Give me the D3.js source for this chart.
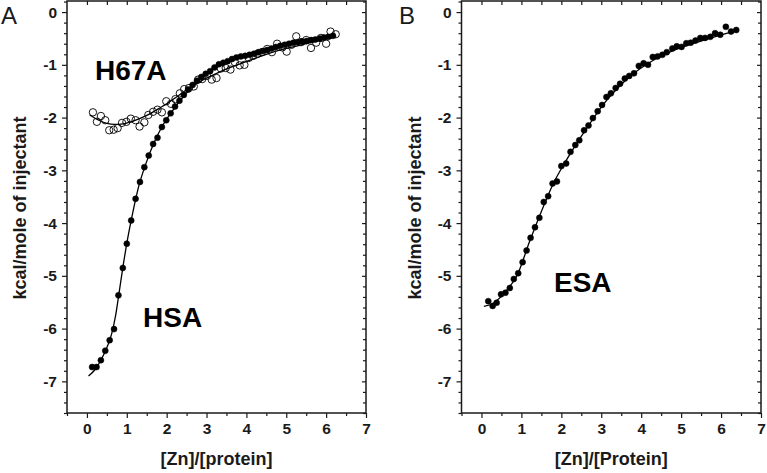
<!DOCTYPE html>
<html>
<head>
<meta charset="utf-8">
<script src="https://cdn.jsdelivr.net/npm/d3@7"></script>
<style>
  body { margin: 0; background: #fff; }
  svg { display: block; font-family: "Liberation Sans", Arial, sans-serif; }
</style>
</head>
<body>
<svg id="chart" width="767" height="473"></svg>
<script>
// axis ticks
const xTicks = [0, 1, 2, 3, 4, 5, 6, 7];
const xMinor = [-0.5, 0.5, 1.5, 2.5, 3.5, 4.5, 5.5, 6.5];
const yTicks = [0, -1, -2, -3, -4, -5, -6, -7];

// panel A, HSA (filled)
const hsaX = [0.13, 0.24, 0.35, 0.46, 0.57, 0.68, 0.79, 0.90, 1.00, 1.11, 1.22, 1.33, 1.44, 1.55, 1.66, 1.77, 1.88, 1.99, 2.10, 2.21, 2.32, 2.43, 2.54, 2.65, 2.76, 2.87, 2.98, 3.09, 3.20, 3.31, 3.42, 3.53, 3.64, 3.75, 3.86, 3.97, 4.08, 4.19, 4.30, 4.41, 4.52, 4.63, 4.74, 4.85, 4.96, 5.07, 5.18, 5.29, 5.40, 5.51, 5.62, 5.73, 5.84, 5.95, 6.06, 6.17];
const hsaY = [-6.73, -6.73, -6.60, -6.42, -6.22, -6.01, -5.37, -4.85, -4.39, -3.95, -3.54, -3.22, -2.94, -2.72, -2.50, -2.38, -2.18, -2.05, -1.92, -1.79, -1.68, -1.57, -1.47, -1.38, -1.30, -1.23, -1.17, -1.12, -1.05, -0.99, -0.96, -0.93, -0.89, -0.86, -0.84, -0.83, -0.81, -0.79, -0.76, -0.74, -0.72, -0.69, -0.66, -0.64, -0.62, -0.60, -0.58, -0.57, -0.56, -0.55, -0.53, -0.52, -0.50, -0.48, -0.47, -0.45];
const hsaFitX = [0.04, 0.2, 0.35, 0.5, 0.62, 0.72, 0.82, 0.92, 1.02, 1.15, 1.3, 1.5, 1.7, 1.9, 2.1, 2.4, 2.7, 3.0, 3.4, 3.8, 4.2, 4.6, 5.0, 5.5, 6.0, 6.25];
const hsaFitY = [-6.9, -6.78, -6.6, -6.36, -6.1, -5.75, -5.25, -4.75, -4.3, -3.8, -3.3, -2.83, -2.45, -2.15, -1.92, -1.62, -1.38, -1.15, -0.99, -0.87, -0.78, -0.70, -0.63, -0.56, -0.49, -0.46];

// panel A, H67A (open)
const h67aX = [0.15, 0.25, 0.35, 0.46, 0.56, 0.67, 0.77, 0.88, 0.99, 1.10, 1.22, 1.32, 1.44, 1.54, 1.66, 1.77, 1.88, 1.99, 2.11, 2.22, 2.33, 2.44, 2.56, 2.68, 2.79, 2.89, 3.01, 3.13, 3.25, 3.36, 3.48, 3.60, 3.71, 3.83, 3.95, 4.06, 4.17, 4.28, 4.39, 4.52, 4.64, 4.77, 4.90, 5.01, 5.13, 5.25, 5.37, 5.50, 5.62, 5.75, 5.87, 6.00, 6.11, 6.24];
const h67aY = [-1.90, -2.08, -1.97, -2.05, -2.24, -2.23, -2.20, -2.10, -2.08, -2.02, -2.05, -2.17, -2.09, -1.95, -1.89, -1.85, -1.90, -1.69, -1.74, -1.65, -1.54, -1.46, -1.44, -1.41, -1.28, -1.27, -1.21, -1.28, -1.25, -1.07, -1.06, -1.09, -0.95, -1.01, -1.00, -0.87, -0.83, -0.79, -0.76, -0.70, -0.76, -0.60, -0.67, -0.75, -0.62, -0.46, -0.57, -0.53, -0.68, -0.58, -0.49, -0.60, -0.37, -0.42];
const h67aFitX = [0.07, 0.3, 0.5, 0.7, 0.9, 1.1, 1.35, 1.6, 1.8, 2.0, 2.3, 2.6, 2.9, 3.2, 3.6, 4.0, 4.5, 5.0, 5.5, 6.0, 6.23];
const h67aFitY = [-1.95, -2.05, -2.11, -2.13, -2.12, -2.08, -2.01, -1.92, -1.83, -1.74, -1.58, -1.42, -1.29, -1.18, -1.05, -0.94, -0.80, -0.69, -0.60, -0.51, -0.47];

// panel B, ESA
const esaX = [0.17, 0.28, 0.38, 0.49, 0.60, 0.71, 0.81, 0.92, 1.03, 1.13, 1.23, 1.34, 1.45, 1.56, 1.67, 1.78, 1.89, 2.00, 2.12, 2.23, 2.35, 2.45, 2.57, 2.68, 2.79, 2.91, 3.02, 3.13, 3.24, 3.36, 3.47, 3.59, 3.70, 3.82, 3.94, 4.06, 4.17, 4.29, 4.41, 4.53, 4.64, 4.78, 4.89, 5.01, 5.13, 5.24, 5.36, 5.48, 5.60, 5.73, 5.85, 5.98, 6.12, 6.25, 6.38];
const esaY = [-5.48, -5.57, -5.51, -5.35, -5.32, -5.23, -5.06, -4.95, -4.74, -4.52, -4.28, -4.08, -3.90, -3.60, -3.49, -3.25, -3.21, -2.92, -2.87, -2.65, -2.52, -2.43, -2.24, -2.15, -2.01, -1.88, -1.76, -1.61, -1.54, -1.44, -1.36, -1.26, -1.21, -1.16, -1.02, -0.97, -1.00, -0.85, -0.84, -0.81, -0.76, -0.69, -0.65, -0.66, -0.59, -0.58, -0.54, -0.49, -0.49, -0.47, -0.40, -0.43, -0.28, -0.37, -0.34];
const esaFitX = [0.06, 0.3, 0.6, 0.9, 1.2, 1.5, 1.8, 2.1, 2.4, 2.7, 3.0, 3.4, 3.8, 4.2, 4.6, 5.0, 5.5, 6.0, 6.38];
const esaFitY = [-5.58, -5.52, -5.3, -4.98, -4.36, -3.78, -3.25, -2.84, -2.47, -2.13, -1.8, -1.45, -1.17, -0.96, -0.80, -0.67, -0.55, -0.43, -0.36];

const svg = d3.select('#chart');
const zip = (xs, ys) => xs.map((x, i) => ({ x: x, y: ys[i] }));
const ink = '#1a1a1a';

function drawPanel(cfg) {
  const x = d3.scaleLinear().domain([-0.5, 7]).range([cfg.left, cfg.right]);
  const y = d3.scaleLinear().domain([-7.6, 0.21]).range([413, 1]);
  const g = svg.append('g');

  const yMinor = d3.range(-38, 2).map(v => v / 5).filter(v => !yTicks.some(t => Math.abs(t - v) < 1e-6));

  const fmt = d => String(d);
  const styleAxis = sel => {
    sel.select('.domain').remove();
    sel.selectAll('line').attr('stroke', ink).attr('stroke-width', 1.2);
    sel.selectAll('text').attr('fill', ink).attr('font-size', 15.5).attr('font-weight', 'bold')
      .attr('font-family', '"Liberation Sans", Arial, sans-serif');
  };

  // left / bottom, ticks outward
  g.append('g').attr('transform', `translate(${cfg.left},0)`)
    .call(d3.axisLeft(y).tickValues(yTicks).tickFormat(fmt).tickSize(5).tickPadding(5)).call(styleAxis);
  g.append('g').attr('transform', `translate(${cfg.left},0)`)
    .call(d3.axisLeft(y).tickValues(yMinor).tickFormat('').tickSize(3)).call(styleAxis);
  g.append('g').attr('transform', 'translate(0,413)')
    .call(d3.axisBottom(x).tickValues(xTicks).tickFormat(fmt).tickSize(5).tickPadding(5)).call(styleAxis);
  g.append('g').attr('transform', 'translate(0,413)')
    .call(d3.axisBottom(x).tickValues(xMinor).tickFormat('').tickSize(3)).call(styleAxis);

  // top / right, ticks inward
  g.append('g').attr('transform', `translate(${cfg.right},0)`)
    .call(d3.axisLeft(y).tickValues(yTicks).tickFormat('').tickSize(4)).call(styleAxis);
  g.append('g').attr('transform', `translate(${cfg.right},0)`)
    .call(d3.axisLeft(y).tickValues(yMinor).tickFormat('').tickSize(3)).call(styleAxis);
  g.append('g').attr('transform', 'translate(0,1)')
    .call(d3.axisBottom(x).tickValues(xTicks.concat(xMinor).filter(v => v > -0.5 && v < 7)).tickFormat('').tickSize(4)).call(styleAxis);

  g.append('rect')
    .attr('x', cfg.left).attr('y', 1)
    .attr('width', cfg.right - cfg.left).attr('height', 412)
    .attr('fill', 'none').attr('stroke', ink).attr('stroke-width', 1.5);

  const line = d3.line().x(d => x(d.x)).y(d => y(d.y)).curve(d3.curveMonotoneX);

  cfg.series.forEach(s => {
    g.append('path').datum(zip(s.fitX, s.fitY))
      .attr('d', line).attr('fill', 'none').attr('stroke', '#000').attr('stroke-width', 1.3);
  });
  cfg.series.forEach(s => {
    g.append('g').selectAll('circle').data(zip(s.xs, s.ys)).join('circle')
      .attr('cx', d => x(d.x)).attr('cy', d => y(d.y))
      .attr('r', s.open ? 3.7 : 3.0)
      .attr('fill', s.open ? 'none' : '#000')
      .attr('stroke', '#000').attr('stroke-width', s.open ? 0.9 : 0.5);
  });

  // titles
  g.append('text')
    .attr('transform', `translate(${cfg.yTitleX},208) rotate(-90)`)
    .attr('text-anchor', 'middle').attr('font-size', 18).attr('font-weight', 'bold').attr('fill', ink)
    .text('kcal/mole of injectant');
  g.append('text')
    .attr('x', x(3.25)).attr('y', 465)
    .attr('text-anchor', 'middle').attr('font-size', 18).attr('font-weight', 'bold').attr('fill', ink)
    .text(cfg.xTitle);
  g.append('text')
    .attr('x', cfg.panelX).attr('y', 24)
    .attr('font-size', 24).attr('fill', ink)
    .text(cfg.panel);
  cfg.notes.forEach(n => {
    g.append('text')
      .attr('x', n.x).attr('y', n.y)
      .attr('font-size', 28).attr('font-weight', 'bold').attr('fill', '#000')
      .text(n.text);
  });
}

drawPanel({
  left: 67, right: 366, yTitleX: 26, panel: 'A', panelX: 1,
  xTitle: '[Zn]/[protein]',
  series: [
    { xs: hsaX, ys: hsaY, fitX: hsaFitX, fitY: hsaFitY, open: false },
    { xs: h67aX, ys: h67aY, fitX: h67aFitX, fitY: h67aFitY, open: true }
  ],
  notes: [{ text: 'H67A', x: 95, y: 80 }, { text: 'HSA', x: 143, y: 327 }]
});

drawPanel({
  left: 461.5, right: 761, yTitleX: 421, panel: 'B', panelX: 399,
  xTitle: '[Zn]/[Protein]',
  series: [
    { xs: esaX, ys: esaY, fitX: esaFitX, fitY: esaFitY, open: false }
  ],
  notes: [{ text: 'ESA', x: 554, y: 292 }]
});
</script>
</body>
</html>
